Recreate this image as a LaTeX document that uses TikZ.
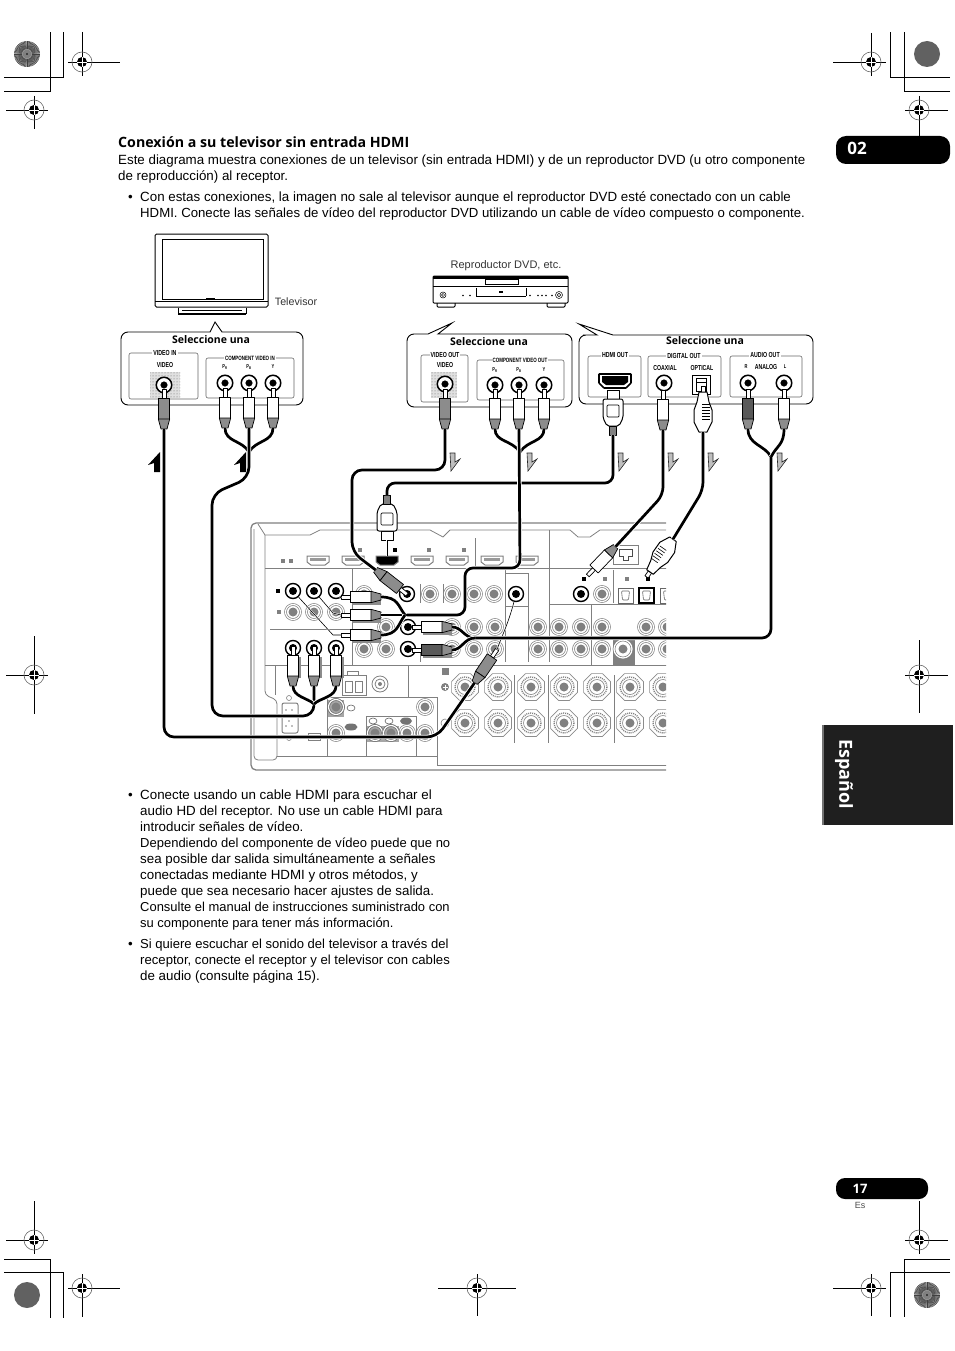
\documentclass[tikz,border=0pt]{standalone}
\usepackage{fontspec}
\setmainfont{Liberation Sans}
\newfontfamily\headfont{Open Sans}
\newfontfamily\panelfont[FakeStretch=0.72]{Liberation Sans}
\usetikzlibrary{patterns,shapes.geometric}

\tikzset{
  bodytext/.style={anchor=base west,inner sep=0,font=\fontsize{13.35}{15}\selectfont},
  bodytight/.style={anchor=base west,inner sep=0,font=\fontsize{#1}{15}\selectfont},
  calloutfine/.style={anchor=base west,inner sep=0,font=\fontsize{12.95}{15}\selectfont},
  callout/.style={draw,line width=0.9,fill=white,rounded corners=7},
  frametrace/.style={draw=black!60,line width=0.6,rounded corners=2},
  paneltitle/.style={fill=white,inner sep=1,font=\panelfont\bfseries\fontsize{7.3}{8}\selectfont},
  panellabel/.style={inner sep=0,font=\panelfont\bfseries\fontsize{7.2}{8}\selectfont},
  compotitle/.style={fill=white,inner sep=1,font=\panelfont\bfseries\fontsize{6.2}{7}\selectfont},
  jacklabel/.style={inner sep=0,font=\panelfont\bfseries\fontsize{5.6}{6}\selectfont},
  pickone/.style={inner sep=0,font=\headfont\bfseries\fontsize{10.5}{12}\selectfont},
  cable/.style={line width=2.7,preaction={draw=white,line width=4.4}},
  lead/.style={line width=0.6,preaction={draw=white,line width=1.6}},
  plugline/.style={draw,line width=0.7,line join=round},
  rearout/.style={draw=black!50,line width=1.3},
  rearline/.style={draw=black!50,line width=0.8},
  jack/.style={circle,draw,fill=white,line width=1.5,minimum size=15.5,inner sep=0},
  jackcore/.style={circle,draw,fill=black,line width=0.5,minimum size=6.5,inner sep=0},
  grayjack/.style={circle,draw=black!50,fill=white,line width=0.7,double=white,double distance=1.2,minimum size=15,inner sep=0},
  graycore/.style={circle,fill=black!50,minimum size=9,inner sep=0},
  blackjack/.style={circle,draw=black,fill=white,line width=1.4,minimum size=15,inner sep=0},
  blackcore/.style={circle,fill=black,minimum size=8,inner sep=0},
  speakerpost/.style={regular polygon,regular polygon sides=8,draw=black!45,fill=white,line width=0.7,minimum size=29,inner sep=0},
  hdmiport/.style={rectangle,minimum width=22,minimum height=9,inner sep=0},
  downmark/.style={draw=black!85,fill=black!25,line width=0.6,line join=miter},
  upmark/.style={fill=black},
  regline/.style={line width=0.9},
}

\newcommand{\regmark}[6]{
  \draw[regline] (#3,#1) -- (#4,#1) (#2,#5) -- (#2,#6);
  \draw[black!60,line width=0.6] (#2,#1) circle (10);
  \fill (#2,#1) circle (5);
  \draw[white,line width=0.7] (#2-5,#1) -- (#2+5,#1) (#2,#1-5) -- (#2,#1+5);
}
\newcommand{\burstwheel}[2]{
  \fill[black!35] (#1,#2) circle (13);
  \foreach \a in {0,6,...,354}
    \draw[black!75,line width=0.5] (#1,#2) ++(\a:5) -- ++(\a:8);
  \fill[black!50] (#1,#2) circle (4.5);
  \fill[black] (#1,#2) circle (0.8);
}
\newcommand{\jackblack}[3]{
  \node[jack] (#1) at (#2,#3) {};
  \node[jackcore] (#1core) at (#2,#3) {};
}
\newcommand{\plugrca}[5]{
  \begin{scope}[shift={(#2,#3)},rotate=#4]
    \draw[plugline,fill=white] (-1.9,-9) rectangle (1.9,0);
    \draw[plugline,fill=#5] (-5.7,0) -- (5.7,0) -- (5.7,21) -- (-5.7,21) -- cycle;
    \draw[plugline,fill=black!45] (-5.7,21) -- (5.7,21) -- (3,31) -- (-3,31) -- cycle;
    \coordinate (#1) at (0,31);
    \coordinate (#1tip) at (0,-9);
  \end{scope}
}
\newcommand{\plughdmi}[4]{
  \begin{scope}[shift={(#2,#3)},rotate=#4]
    \draw[plugline,fill=white,line width=1] (-6,0) -- (6,0) -- (6,9) -- (-6,9) -- cycle;
    \draw[plugline,fill=white,line width=1,rounded corners=2] (-10,9) -- (10,9) -- (10,28) -- (6,36) -- (-6,36) -- (-10,28) -- cycle;
    \draw[plugline,rounded corners=1] (-6,15) rectangle (6,27);
    \draw[plugline,fill=black!50] (-3.5,36) rectangle (3.5,45);
    \coordinate (#1) at (0,45);
    \coordinate (#1tip) at (0,0);
  \end{scope}
}
\newcommand{\plugopt}[4]{
  \begin{scope}[shift={(#2,#3)},rotate=#4]
    \draw[plugline,fill=white] (-2,-6) rectangle (2,0);
    \draw[plugline,fill=white,line width=1] (-4,0) -- (4,0) -- (6,10) -- (9,18) -- (9,30) -- (4,40) -- (-4,40) -- (-9,30) -- (-9,18) -- (-6,10) -- cycle;
    \foreach \s in {12,15,...,27}
      \draw[line width=0.6] (-1,\s) -- (7,\s);
    \coordinate (#1) at (0,40);
  \end{scope}
}

\begin{document}
\begin{tikzpicture}[x=1pt,y=-1pt]
  \useasboundingbox (0,0) rectangle (954,1351);

  \draw[regline] (4,91) -- (50,91) -- (50,32);
  \draw[regline] (4,77) -- (63,77) -- (63,32);
  \draw[regline] (950,77) -- (890,77) -- (890,32);
  \draw[regline] (950,91) -- (904,91) -- (904,32);
  \draw[regline] (4,1259) -- (50,1259) -- (50,1318);
  \draw[regline] (4,1272) -- (63,1272) -- (63,1318);
  \draw[regline] (950,1272) -- (890,1272) -- (890,1317);
  \draw[regline] (950,1259) -- (904,1259) -- (904,1317);
  \regmark{62}{82}{68}{120}{32}{76}
  \regmark{110}{34}{6}{48}{96}{129}
  \regmark{62}{871}{833}{886}{33}{76}
  \regmark{110}{919}{905}{948}{96}{136}
  \regmark{675}{34}{6}{48}{636}{714}
  \regmark{675}{919}{905}{948}{640}{713}
  \regmark{1240}{34}{6}{48}{1201}{1254}
  \regmark{1288}{82}{68}{120}{1274}{1317}
  \regmark{1288}{477}{438}{516}{1274}{1316}
  \regmark{1240}{919}{905}{948}{1201}{1254}
  \regmark{1288}{871}{833}{886}{1274}{1316}
  \burstwheel{27}{54}
  \burstwheel{927}{1295}
  \fill[black!62] (927,54) circle (13);
  \fill[black!62] (27,1295) circle (13);

  \fill[black,rounded corners=10] (836,136) rectangle (950,164);
  \node[inner sep=0,white,font=\headfont\bfseries\fontsize{17}{17}\selectfont] (chapter) at (857,148) {02};
  \fill[black,rounded corners=9] (836,1178) rectangle (928,1199);
  \node[inner sep=0,white,font=\headfont\bfseries\fontsize{13}{13}\selectfont] (pagenum) at (860,1188.5) {17};
  \node[inner sep=0,black!70,font=\fontsize{9}{9}\selectfont] (pagelang) at (860,1205.5) {Es};
  \fill[black!88] (823,725) rectangle (953,825);
  \fill[black!55] (822,725) rectangle (823.5,825);
  \node[inner sep=0,white,rotate=-90,font=\headfont\bfseries\fontsize{18}{18}\selectfont] (language) at (844,774) {Español};

  \node[anchor=base west,inner sep=0,font=\headfont\bfseries\fontsize{14.2}{16}\selectfont] (heading) at (118,147.3) {Conexión a su televisor sin entrada HDMI};
  \node[bodytext] (intro1) at (118,164.3) {Este diagrama muestra conexiones de un televisor (sin entrada HDMI) y de un reproductor DVD (u otro componente};
  \node[bodytext] (intro2) at (118,180.3) {de reproducción) al receptor.};
  \node[bodytext] (introdot) at (128,201.3) {•};
  \node[bodytext] (intro3) at (140,201.3) {Con estas conexiones, la imagen no sale al televisor aunque el reproductor DVD esté conectado con un cable};
  \node[bodytight=13.2] (intro4) at (140,217.3) {HDMI. Conecte las señales de vídeo del reproductor DVD utilizando un cable de vídeo compuesto o componente.};

  \node[bodytext] (notedot1) at (128,799.3) {•};
  \node[bodytext] (note1) at (140,799.3) {Conecte usando un cable HDMI para escuchar el};
  \node[bodytext] (note2) at (140,815.3) {audio HD del receptor. No use un cable HDMI para};
  \node[bodytext] (note3) at (140,831.3) {introducir señales de vídeo.};
  \node[bodytight=13] (note4) at (140,847.3) {Dependiendo del componente de vídeo puede que no};
  \node[bodytext] (note5) at (140,863.3) {sea posible dar salida simultáneamente a señales};
  \node[bodytext] (note6) at (140,879.3) {conectadas mediante HDMI y otros métodos, y};
  \node[bodytext] (note7) at (140,895.3) {puede que sea necesario hacer ajustes de salida.};
  \node[calloutfine] (note8) at (140,911.3) {Consulte el manual de instrucciones suministrado con};
  \node[calloutfine] (note9) at (140,927.3) {su componente para tener más información.};
  \node[bodytext] (notedot2) at (128,948.3) {•};
  \node[bodytight=13.05] (note10) at (140,948.3) {Si quiere escuchar el sonido del televisor a través del};
  \node[bodytight=13.14] (note11) at (140,964.3) {receptor, conecte el receptor y el televisor con cables};
  \node[bodytext] (note12) at (140,980.3) {de audio (consulte página 15).};

  \draw[line width=1,rounded corners=1.5] (155,234) rectangle (268,307);
  \draw[line width=0.8] (162,239) rectangle (263,299);
  \draw[line width=0.5] (155,301) -- (268,301);
  \fill (206,298) rectangle (215,300);
  \draw[line width=0.9] (178,314) -- (178,308) (246,314) -- (246,308);
  \draw[line width=1.4] (178,314) -- (246,314);
  \draw[line width=0.5] (182,310) -- (242,310);
  \node[inner sep=0,black!80,font=\fontsize{10.7}{12}\selectfont] (tvname) at (296,302) {Televisor};

  \node[inner sep=0,black!80,font=\fontsize{11}{13}\selectfont] (dvdname) at (506,266) {Reproductor DVD, etc.};
  \draw[line width=1,rounded corners=1] (433,276) rectangle (568,303);
  \fill (433,276) rectangle (568,279);
  \draw[line width=0.5] (433,286.5) -- (568,286.5);
  \draw[line width=0.7] (485,279.5) rectangle (518,284);
  \draw[line width=0.5] (476,288) -- (476,296) (526,288) -- (526,296);
  \draw[line width=1] (476,296) -- (526,296);
  \fill (499,291) rectangle (503,293);
  \draw[line width=0.5] (443,295) circle (3) (443,295) circle (1.6) (559,295) circle (3.5) (559,295) circle (1.8);
  \foreach \x in {463,470,530,538,542,546,552}
    \fill (\x,295.5) circle (0.9);
  \draw[line width=1,rounded corners=1] (437,303) -- (437,307) -- (455,307) -- (455,303);
  \draw[line width=1,rounded corners=1] (547,303) -- (547,307) -- (565,307) -- (565,303);

  \draw[callout] (240,332) -- (303,332) -- (303,405) -- (121,405) -- (121,332) -- (200,332) [sharp corners] -- (210,332) -- (215,322) -- (222,332) -- (240,332);
  \draw[callout] (460,334) -- (572,334) -- (572,407) -- (407,407) -- (407,334) -- (420,334) [sharp corners] -- (428,334) -- (452,323) -- (438,334) -- (460,334);
  \draw[callout] (640,335) -- (813,335) -- (813,404) -- (579,404) -- (579,335) -- (590,335) [sharp corners] -- (597,335) -- (579,324) -- (613,335) -- (640,335);
  \node[pickone] (tvpick) at (211,340) {Seleccione una};
  \node[pickone] (dvdpick1) at (489,342) {Seleccione una};
  \node[pickone] (dvdpick2) at (705,341) {Seleccione una};

  \draw[frametrace] (129,353) rectangle (198,399);
  \draw[frametrace] (206,358) rectangle (294,398);
  \draw[frametrace] (421,355) rectangle (468,402);
  \draw[frametrace] (477,360) rectangle (564,400);
  \draw[frametrace] (588,356) rectangle (641,397);
  \draw[frametrace] (648,356) rectangle (721,397);
  \draw[frametrace] (730,356) rectangle (802,397);
  \node[paneltitle] (tvvideotitle) at (165,353) {VIDEO IN};
  \node[panellabel] (tvvideolabel) at (165,365) {VIDEO};
  \node[compotitle] (tvcomptitle) at (250,358) {COMPONENT VIDEO IN};
  \node[jacklabel] (tvpr) at (225,367) {P\textsubscript{R}};
  \node[jacklabel] (tvpb) at (249,367) {P\textsubscript{B}};
  \node[jacklabel] (tvy) at (273,367) {Y};
  \node[paneltitle] (dvdvideotitle) at (445,355) {VIDEO OUT};
  \node[panellabel] (dvdvideolabel) at (445,365) {VIDEO};
  \node[compotitle] (dvdcomptitle) at (520,360) {COMPONENT VIDEO OUT};
  \node[jacklabel] (dvdpr) at (495,370) {P\textsubscript{R}};
  \node[jacklabel] (dvdpb) at (519,370) {P\textsubscript{B}};
  \node[jacklabel] (dvdy) at (544,370) {Y};
  \node[paneltitle] (hdmititle) at (615,355) {HDMI OUT};
  \node[paneltitle] (digitaltitle) at (684,356) {DIGITAL OUT};
  \node[panellabel] (coaxlabel) at (665,368) {COAXIAL};
  \node[panellabel] (optlabel) at (702,368) {OPTICAL};
  \node[paneltitle] (audiotitle) at (765,355) {AUDIO OUT};
  \node[jacklabel] (audior) at (746,367) {R};
  \node[panellabel] (analoglabel) at (766,367) {ANALOG};
  \node[jacklabel] (audiol) at (785,367) {L};

  \fill[black!12] (150,372) rectangle (180,398);
  \fill[black!12] (431,372) rectangle (457,398);
  \fill[pattern=dots,pattern color=black!60] (150,372) rectangle (180,398);
  \fill[pattern=dots,pattern color=black!60] (431,372) rectangle (457,398);
  \jackblack{tvvideo}{164}{385}
  \jackblack{tvjackpr}{225}{383}
  \jackblack{tvjackpb}{249}{383}
  \jackblack{tvjacky}{273}{383}
  \jackblack{dvdvideo}{445}{384}
  \jackblack{dvdjackpr}{495}{385}
  \jackblack{dvdjackpb}{519}{385}
  \jackblack{dvdjacky}{544}{385}
  \jackblack{dvdcoax}{664}{383}
  \jackblack{dvdjackr}{748}{383}
  \jackblack{dvdjackl}{784}{383}
  \draw[line width=1.6,fill=white,rounded corners=0.5] (599,374) -- (631,374) -- (631,383) -- (626,388) -- (604,388) -- (599,383) -- cycle;
  \fill (602,376) -- (628,376) -- (628,382) -- (624,385) -- (606,385) -- (602,382) -- cycle;
  \draw[line width=1,fill=white] (692,375) rectangle (710,394);
  \draw[line width=0.7] (696,378) rectangle (706,391) (696,382) -- (706,382);

  \begin{scope}
    \clip (245,515) rectangle (666,780);
    \draw[rearout,rounded corners=5] (670,523) -- (251,523) -- (251,770) -- (670,770);
    \draw[rearline] (670,765) -- (437,765) -- (437,697) -- (327,697) -- (327,756);
    \draw[rearline] (258,524) -- (265,535) -- (310,535) -- (320,530) -- (430,530) -- (443,537) -- (450,530) -- (570,530) -- (578,537) -- (590,537) -- (600,530) -- (670,530);
    \draw[rearline,rounded corners=4] (254,529) -- (254,760) -- (277,760) -- (277,700) -- (265,695) -- (265,535);
    \draw[rearline] (277,756) -- (437,756);
    \draw[rearline] (265,568) -- (670,568);
    \draw[rearline] (549,530) -- (549,604) -- (670,604);
    \draw[rearline] (505,568) -- (505,662) (505,573) -- (528,573) -- (528,662) (505,606) -- (528,606);
    \draw[rearline] (352,568) -- (352,665);
    \draw[rearline] (265,665) -- (670,665);
    \draw[rearline] (270,629) -- (350,629);
    \draw[rearline] (420,584) -- (420,603) (420,650) -- (420,662) (443,584) -- (443,603) (475,538) -- (475,568);
    \draw[rearline] (549,604) -- (549,662) (591.5,605) -- (591.5,665) (613.5,570) -- (613.5,603);
    \draw[rearline] (275,665) -- (275,695) (408,665) -- (408,697);
    \draw[rearline] (514,675) -- (514,743) (548,675) -- (548,743) (614,675) -- (614,743);
    \draw[rearline] (366,756) -- (366,716) -- (416,716) -- (416,756);
    \fill[black!50] (613,640) rectangle (635,665);

    \foreach \x in {318,353,422,457,492,527}{
      \node[hdmiport] (port\x) at (\x,560.5) {};
      \draw[black!50,line width=1,fill=white] (\x-11,556) -- (\x+11,556) -- (\x+11,562) -- (\x+7,565) -- (\x-7,565) -- (\x-11,562) -- cycle;
      \fill[black!40] (\x-8,558) rectangle (\x+8,561);
    }
    \node[hdmiport] (porthdmi) at (387,560.5) {};
    \draw[black!50,line width=1,fill=black] (376,556) -- (398,556) -- (398,562) -- (394,565) -- (380,565) -- (376,562) -- cycle;
    \foreach \x/\y in {360/550,429/550,464/550,283/561,279/612,605/579,627/579}
      \fill[black!50] (\x-1.7,\y-2) rectangle (\x+1.7,\y+2);
    \fill[black!50] (289,559) rectangle (293,563);
    \foreach \x/\y in {395/550,278/591,584/579,648/579}
      \fill (\x-2,\y-2) rectangle (\x+2,\y+2);
    \draw[rearline,line width=1] (613,545) rectangle (638,564);
    \draw[black!70,line width=1] (619,549) -- (632,549) -- (632,556) -- (628,556) -- (628,560) -- (623,560) -- (623,556) -- (619,556) -- cycle;

    \foreach \x/\y in {293/612,314/612,336/612,430/594,452/594,474/594,494/594,602/594,364/594,386/627,452/627,474/627,495/627,538/627,559/627,581/627,602/627,646/627,667/627,364/649,386/649,452/649,474/649,495/649,538/649,559/649,581/649,602/649,646/649,667/649,336/707,336/733,375/733,391/733,407/733,425/707,425/733}{
      \node[grayjack] (rear\x-\y) at (\x,\y) {};
      \node[graycore] at (\x,\y) {};
    }
    \fill[black!35] (328,700) rectangle (344,717);
    \fill[black!35] (367,726) rectangle (399,742);
    \foreach \x/\y in {336/707,375/733,391/733}{
      \node[grayjack,draw=black!60,fill=black!35] (lit\x-\y) at (\x,\y) {};
      \node[graycore] at (\x,\y) {};
    }
    \node[grayjack,minimum size=18] (litjack) at (623,649) {};
    \node[graycore] at (623,649) {};

    \foreach \x in {465,498,531,564,597,630,663}
      \foreach \y in {687,723}{
        \node[speakerpost] (post\x-\y) at (\x,\y) {};
        \draw[black!50,line width=1.4,dash pattern=on 1pt off 1pt] (\x,\y) circle (10);
        \draw[black!50,line width=0.6] (\x,\y) circle (7.5);
        \fill[black!50] (\x,\y) circle (4.5);
      }
    \fill[black!50] (442,668) rectangle (449,675);
    \fill[black!50] (445,687) circle (4);
    \draw[white,line width=0.7] (442.5,687) -- (447.5,687) (445,684.5) -- (445,689.5);
    \draw[black!50,line width=0.6] (445,723) circle (4);

    \foreach \x/\y in {618/588,660/588}
      \draw[black!60,line width=0.9,fill=white] (\x,\y) rectangle (\x+15,\y+15);
    \draw[black,line width=1.1,fill=white] (639,588) rectangle (654,603);
    \foreach \x in {625.5,646.5,667.5}
      \draw[black!60,line width=0.6,rounded corners=1] (\x-4,591) -- (\x+4,591) -- (\x+3,600) -- (\x-3,600) -- cycle;

    \draw[rearline,line width=1,rounded corners=2] (282,703) rectangle (298,733);
    \draw[black!50,line width=0.6] (289,698) circle (2.5) (289,738) circle (2.5);
    \foreach \x/\y in {286/710,292/710,286/726,292/726,289/715,289/721}
      \fill[black!50] (\x,\y) circle (0.8);
    \draw[rearline] (342,675) rectangle (366,695) (345,681) rectangle (352,692) (355,681) rectangle (362,692) (347,675) -- (347,671) -- (358,671) -- (358,675);
    \draw[black!50,line width=0.8] (380,684) circle (8) (380,684) circle (5);
    \fill[black!50] (380,684) circle (2);
    \draw[rearline] (308,733) rectangle (320,740);
    \draw[black!60,line width=0.6] (351,708) ellipse (4 and 3) (373,721) ellipse (4 and 3) (389,721) ellipse (4 and 3);
    \fill[black!55] (351,727) ellipse (6.5 and 3.5) (406,721) ellipse (6 and 3.5);
  \end{scope}

  \node[blackjack] (reara) at (293,591) {};
  \node[blackcore] at (reara) {};
  \node[blackjack] (rearb) at (314,591) {};
  \node[blackcore] at (rearb) {};
  \node[blackjack] (rearc) at (336,591) {};
  \node[blackcore] at (rearc) {};
  \node[blackjack] (reard) at (293,648) {};
  \node[blackcore] at (reard) {};
  \node[blackjack] (reare) at (314,648) {};
  \node[blackcore] at (reare) {};
  \node[blackjack] (rearf) at (336,648) {};
  \node[blackcore] at (rearf) {};
  \node[blackjack] (rearvideo) at (407,594) {};
  \node[blackcore] at (rearvideo) {};
  \node[blackjack] (rearwhite) at (408,627) {};
  \node[blackcore] at (rearwhite) {};
  \node[blackjack] (reardark) at (408,649) {};
  \node[blackcore] at (reardark) {};
  \node[blackjack] (rearsolo) at (516,594) {};
  \node[blackcore] at (rearsolo) {};
  \node[blackjack] (rearcoax) at (581,594) {};
  \node[blackcore] at (rearcoax) {};

  \plugrca{tvplugvideo}{164}{398}{0}{black!45}
  \plugrca{tvplugpr}{225}{397}{0}{white}
  \plugrca{tvplugpb}{249}{397}{0}{white}
  \plugrca{tvplugy}{273}{397}{0}{white}
  \plugrca{dvdplugvideo}{445}{398}{0}{black!45}
  \plugrca{dvdplugpr}{495}{398}{0}{white}
  \plugrca{dvdplugpb}{519}{398}{0}{white}
  \plugrca{dvdplugy}{544}{398}{0}{white}
  \plugrca{dvdplugcoax}{663}{399}{0}{white}
  \plugrca{dvdplugr}{748}{398}{0}{black!65}
  \plugrca{dvdplugl}{784}{398}{0}{white}
  \plughdmi{dvdplughdmi}{613}{390}{0}
  \plugopt{dvdplugopt}{703}{392}{0}

  \foreach \x in {293,314,336}
    \fill[black!45] (\x-3,657) rectangle (\x+7.5,678);
  \foreach \x/\y in {352/597,352/615,352/635,423/627,423/650}
    \fill[black!45] (\x,\y-3) rectangle (\x+29,\y+7.5);
  \plugrca{recplugd}{293}{655}{0}{white}
  \plugrca{recpluge}{314}{655}{0}{white}
  \plugrca{recplugf}{336}{655}{0}{white}
  \plugrca{recplugtop}{350}{597}{90}{white}
  \plugrca{recplugmid}{350}{615}{90}{white}
  \plugrca{recpluglow}{350}{635}{90}{white}
  \plugrca{recplugwhite}{421}{627}{90}{white}
  \plugrca{recplugdark}{421}{650}{90}{black!65}
  \plugrca{recplugvideo}{400}{589}{232}{black!45}
  \plugrca{recplugsolo}{492}{657}{-34}{black!45}
  \plugrca{recplugcoax}{594}{569}{136}{white}
  \plugopt{recplugopt}{650}{572}{145}
  \plughdmi{recplughdmi}{387}{540}{180}

  \draw[lead] (rearc) .. controls (340,598) .. (recplugtoptip);
  \draw[lead] (rearb) -- (333,613) -- (recplugmidtip);
  \draw[lead] (reara) -- (333,635) -- (recpluglowtip);
  \draw[lead] (rearsolo) .. controls (508,625) and (500,640) .. (recplugsolotip);
  \draw[lead,line width=1] (recplughdmitip) -- (porthdmi);

  \coordinate (tvjoin) at (249,452);
  \coordinate (recjoin) at (314,704);
  \coordinate (dvdjoin) at (520,452);
  \coordinate (audiojoin) at (771,457);
  \coordinate (audiofork) at (475,638);
  \coordinate (compfork) at (405,615);

  \draw[cable,rounded corners=10] (dvdplugvideo) -- (445,470) -- (352,470) -- (352,552) -- (recplugvideo);
  \draw[cable,rounded corners=8] (dvdplughdmi) -- (613,483) -- (387,483) -- (recplughdmi);
  \draw[cable] (dvdplugpr) .. controls (495,442) and (512,440) .. (dvdjoin);
  \draw[cable] (dvdplugy) .. controls (544,442) and (528,440) .. (dvdjoin);
  \draw[cable,rounded corners=8] (dvdplugpb) -- (520,568) -- (465,568) -- (465,615) -- (compfork);
  \draw[cable] (compfork) -- (recplugmid);
  \draw[cable] (recplugtop) .. controls (398,597) and (398,606) .. (compfork);
  \draw[cable] (recpluglow) .. controls (398,635) and (398,624) .. (compfork);
  \draw[cable] (tvplugpr) .. controls (225,442) and (242,440) .. (tvjoin);
  \draw[cable] (tvplugy) .. controls (273,442) and (256,440) .. (tvjoin);
  \draw[cable,rounded corners=11] (tvplugpb) -- (249,478) -- (212,494) -- (212,716) -- (314,716) -- (recpluge);
  \draw[cable] (recplugd) .. controls (293,697) and (308,698) .. (recjoin);
  \draw[cable] (recplugf) .. controls (336,697) and (320,698) .. (recjoin);
  \draw[cable,rounded corners=10] (tvplugvideo) -- (164,737) -- (437,737) -- (recplugsolo);
  \draw[cable,rounded corners=8] (dvdplugcoax) -- (663,495) -- (recplugcoax);
  \draw[cable,rounded corners=8] (dvdplugopt) -- (703,490) -- (recplugopt);
  \draw[cable] (dvdplugr) .. controls (748,445) and (765,445) .. (audiojoin);
  \draw[cable] (dvdplugl) .. controls (784,445) and (777,445) .. (audiojoin);
  \draw[cable,rounded corners=9] (audiojoin) -- (771,638) -- (audiofork);
  \draw[cable] (audiofork) .. controls (464,638) and (462,627) .. (recplugwhite);
  \draw[cable] (audiofork) .. controls (464,638) and (462,650) .. (recplugdark);

  \foreach \x in {450,527,618,668,708,777}
    \draw[downmark] (\x,453) -- (\x+5,453) -- (\x+5,462) -- (\x+10,459) -- (\x+1,471) -- cycle;
  \foreach \x in {160,246}
    \fill[upmark] (\x,452) -- (\x,472) -- (\x-6,472) -- (\x-6,463) -- (\x-12,465) -- cycle;
\end{tikzpicture}
\end{document}
